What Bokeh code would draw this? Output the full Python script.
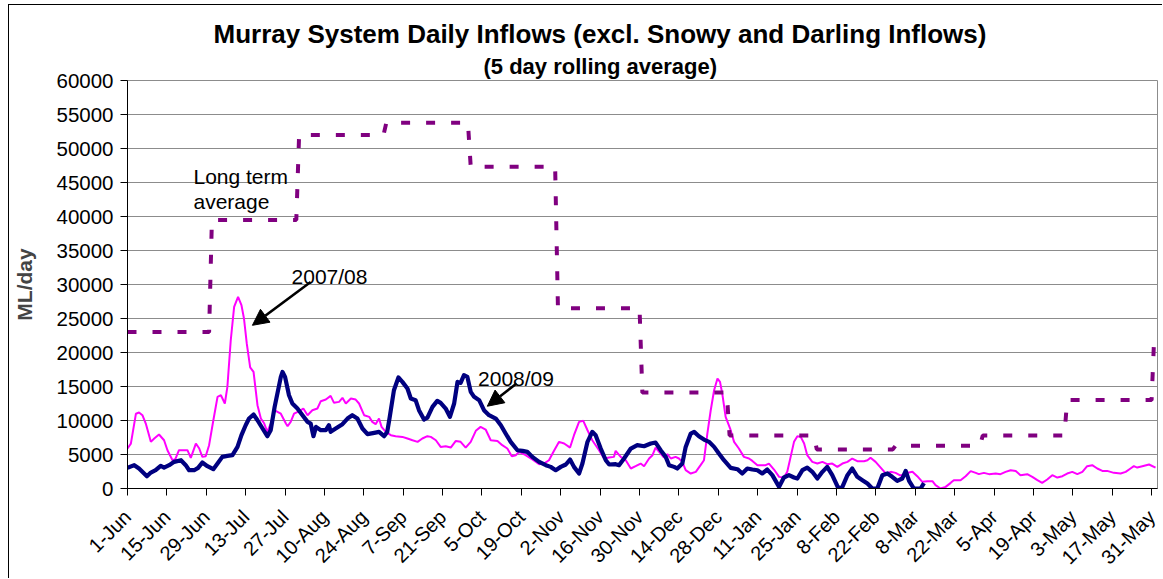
import math
from bokeh.plotting import figure
from bokeh.models import Range1d, FixedTicker, Arrow, NormalHead, Label, Title
from bokeh.embed import file_html
from bokeh.resources import INLINE

# ---------------- data ----------------
tick_days = list(range(0, 365, 14))
tick_labels = ["1-Jun", "15-Jun", "29-Jun", "13-Jul", "27-Jul", "10-Aug", "24-Aug", "7-Sep",
               "21-Sep", "5-Oct", "19-Oct", "2-Nov", "16-Nov", "30-Nov", "14-Dec", "28-Dec",
               "11-Jan", "25-Jan", "8-Feb", "22-Feb", "8-Mar", "22-Mar", "5-Apr", "19-Apr",
               "3-May", "17-May", "31-May"]
y_ticks = list(range(0, 60001, 5000))

# long term average: monthly values (Jun .. May, then next Jun)
lta_month_start = [0, 30, 61, 92, 122, 153, 183, 214, 245, 273, 304, 334, 365]
lta_values = [23000, 39500, 52000, 53800, 47300, 26500, 14100, 7800, 5750, 6300, 7800, 13000, 23000]

# 2007/08 (day of season, ML/day)
d0708 = [0, 1.2, 3, 4.1, 5.3, 6.5, 8.3, 9.5, 11.2, 13, 14.2, 16, 17, 18.3, 21.3, 22.5, 24.3, 25.5,
         26.6, 27.8, 29, 30.5, 32, 33.2, 34.6, 35.5, 36.7, 37.9, 39.3, 40.5, 41.4, 42.4, 43.6, 44.8,
         46.2, 47.4, 48.6, 49.7, 50.9, 52.3, 54.5, 56.3, 56.9, 58, 59.2, 61.6, 62.5, 64, 65.7, 67.5,
         68.7, 70.5, 72.2, 73.4, 75.2, 76.4, 77.6, 79.4, 81.1, 82.3, 84.1, 85.9, 87, 88.2, 89.4, 90.3,
         91.8, 93.6, 95.3, 97.7, 99.5, 101.3, 103.1, 104.8, 106.6, 107.8, 109.6, 111.3, 113.1, 114.9,
         116.7, 118.4, 120.2, 122, 123.8, 125.5, 127.3, 129.1, 131.5, 133.2, 135, 136.6, 138, 139.2,
         141.5, 143.9, 146.3, 148, 149.8, 151.6, 153.4, 155.2, 157.3, 158.7, 160.5, 162, 163.5, 165.2,
         167.6, 169.4, 171.2, 172.9, 173.5, 175.3, 177.1, 178.9, 180.6, 182.4, 183.6, 185.4, 186.6,
         187.7, 189.5, 190.7, 191.9, 193.1, 194.8, 196, 197.2, 198.4, 200.2, 202, 203.7, 204.9, 206.1,
         207.3, 208.5, 209.7, 210.6, 211.4, 212.6, 214.2, 215.6, 217.3, 219.1, 220.9, 222.1, 223.9,
         226.8, 228, 229.8, 231.6, 233.3, 234.5, 235.7, 236.9, 238.1, 239.3, 240.5, 241.6, 243.4,
         245.2, 247, 248.7, 250.5, 252.3, 254.1, 255.9, 257.6, 259.4, 261.8, 263, 264.1, 265.9, 267.7,
         269.5, 271.3, 273, 274.8, 276.6, 279, 280.7, 282.5, 284.3, 286.1, 287.2, 289, 290.8, 292.6,
         293.7, 296.1, 297.9, 299.7, 301.5, 302.6, 304.4, 306.2, 308.6, 310.3, 312.1, 313.9, 315.7,
         317.4, 319.8, 321.6, 323.4, 325.1, 326.9, 328.7, 330.5, 332.3, 334, 335.8, 337.6, 339.4,
         341.1, 342.9, 344.7, 346.5, 348.2, 350.6, 353, 354.8, 356.5, 357.7, 358.9, 360.7, 363.1, 365.4]
v0708 = [5880, 6600, 11000, 11170, 10780, 9550, 6860, 7350, 7940, 7100, 5630, 4160, 4310, 5630, 5630,
         4500, 6610, 5880, 4650, 4750, 6370, 10000, 13480, 13720, 12500, 14950, 21800, 26700, 28180,
         26960, 25000, 21300, 17800, 17150, 12250, 10300, 9550, 8330, 9550, 11500, 11000, 9550, 9160,
         9800, 11000, 11500, 11760, 10780, 11500, 11760, 12840, 13080, 13620, 12600, 12740, 13330,
         12500, 13230, 13080, 12500, 10780, 10540, 9800, 9460, 10300, 9060, 8330, 7840, 7690, 7590,
         7350, 7100, 6860, 7350, 7690, 7590, 7100, 6120, 6220, 6020, 7000, 6860, 6020, 6860, 8480,
         9060, 8670, 7100, 7000, 6370, 5880, 4750, 4900, 5390, 4900, 4260, 3580, 3670, 4160, 5540,
         6860, 6620, 6020, 7840, 9800, 9950, 8570, 7100, 5630, 4410, 4560, 4650, 5540, 4650, 4160,
         2940, 3280, 3670, 3280, 4410, 4900, 6020, 5140, 4550, 5050, 4410, 4650, 4410, 3920, 2690,
         2200, 2450, 3430, 4160, 8080, 11510, 14450, 16170, 15680, 13960, 10530, 8820, 6860, 5880,
         4650, 4410, 4060, 3430, 3430, 3670, 2790, 1710, 1620, 2450, 4650, 6860, 7690, 7590, 6610,
         4900, 3920, 3670, 3920, 3570, 3670, 3180, 3670, 3920, 4410, 4010, 4010, 4160, 4510, 3920,
         3080, 2210, 2450, 2300, 1900, 2250, 2450, 1810, 980, 1070, 1070, 490, 0, 240, 830, 1220,
         1220, 1810, 2550, 2300, 2110, 2300, 2110, 2200, 2110, 2450, 2690, 2590, 1960, 2110, 1710,
         1220, 830, 1320, 1960, 1610, 1810, 2200, 2450, 2110, 2450, 3280, 3430, 2940, 2590, 2590,
         2300, 2200, 2450, 2940, 3280, 3080, 3280, 3530, 3080]

# 2008/09 (day of season, ML/day)
d0809 = [0, 2.4, 4.1, 6.9, 8.3, 10, 11.8, 13, 14.8, 16.6, 19, 20.7, 21.9, 23.7, 25.1, 26.6, 28.4,
         30.5, 32, 33.7, 35.5, 37.3, 39.1, 40.5, 42, 43.2, 44.8, 46.2, 48, 49.7, 50.9, 52.3, 54.5,
         55.1, 56, 57.4, 58.6, 60.4, 62.2, 64, 65.1, 66.1, 67, 68.7, 70.5, 71.6, 72.2, 74, 76.4, 78.2,
         79.9, 81.7, 83.5, 85.3, 87.7, 89.4, 91.2, 92.3, 93.2, 94.7, 96.3, 97.7, 99.5, 100.7, 102.4,
         103.6, 105.4, 106.6, 108.4, 110.1, 111.3, 113.1, 114.6, 116.1, 117.3, 118.4, 119.6, 120.8,
         122, 123.2, 125, 126.7, 128.5, 130.9, 132.7, 134.4, 136.2, 138.6, 140.4, 142.1, 143.9, 146.3,
         148.7, 150.4, 152.2, 154, 155.8, 157.3, 158.7, 160.5, 161.7, 163.5, 165.2, 166.4, 168.2, 170,
         171.2, 173.5, 174.7, 176.5, 178.9, 181.2, 183.6, 186, 187.7, 189.5, 191.3, 192.5, 194.3,
         195.4, 197.2, 198.4, 200.2, 201.4, 203.1, 204.9, 206.7, 208.5, 210.2, 212, 214.4, 216.8,
         218.5, 220.3, 222.1, 223.9, 225.6, 227.4, 229.2, 231.6, 233.3, 235.1, 236.9, 238.1, 239.9,
         241.6, 243.4, 245.2, 247, 248.7, 250.5, 252.7, 254.1, 255.9, 257.6, 259.4, 261.2, 263, 264.7,
         266.5, 268.3, 270.1, 271.8, 273.6, 275.4, 276.6, 277.8, 279.5, 281.9, 283.1]
v0809 = [3030, 3430, 2940, 1810, 2350, 2690, 3330, 3080, 3430, 3920, 4160, 3430, 2690, 2690, 3030,
         3820, 3280, 2840, 3670, 4650, 4800, 4900, 6120, 7840, 9310, 10290, 10880, 10040, 8820, 7690,
         8570, 12000, 16420, 17150, 16420, 13720, 12500, 11760, 10780, 9800, 9550, 7690, 9060, 8570,
         8570, 9310, 8330, 8820, 9460, 10290, 10780, 10290, 8820, 7990, 8180, 8330, 7690, 8300, 10500,
         14450, 16320, 15680, 14700, 13230, 12990, 11520, 10140, 10430, 12000, 12890, 12590, 11760,
         10540, 12500, 15680, 15530, 16660, 16420, 14210, 13480, 12990, 11520, 10780, 10290, 9310,
         8090, 6860, 5630, 5540, 5390, 4650, 3920, 3430, 3180, 2690, 3180, 3530, 4260, 3180, 2210,
         3670, 6860, 8330, 7840, 5880, 4160, 3530, 3580, 3430, 4410, 5880, 6370, 6220, 6620, 6760,
         5630, 4650, 3430, 3180, 2940, 3670, 6120, 8080, 8330, 7690, 7200, 6860, 6120, 5140, 4160,
         3040, 2840, 2210, 2940, 2790, 2690, 2210, 2790, 1960, 240, 1620, 1960, 1620, 1470, 2690,
         3080, 2450, 1470, 2450, 3180, 1960, 0, 240, 1960, 2940, 1720, 1220, 730, 0, 0, 1960, 2210,
         1720, 1130, 1470, 2600, 1130, 0, 0, 800]

# ------------- long-term average as monthly steps -------------
lta_x, lta_y = [], []
for i in range(len(lta_values) - 1):
    lta_x += [lta_month_start[i], lta_month_start[i + 1] - 1]
    lta_y += [lta_values[i], lta_values[i]]
lta_x.append(lta_month_start[-1])
lta_y.append(lta_values[-1])

FONT = "Liberation Sans"

p = figure(width=1154, height=574, x_range=Range1d(0, 366.1), y_range=Range1d(0, 60000),
           output_backend="svg", toolbar_location=None,
           min_border_left=118, min_border_right=6, min_border_top=75, min_border_bottom=91)
p.title.visible = False
p.background_fill_color = "white"
p.border_fill_color = "white"
p.outline_line_color = "#8c8c8c"
p.outline_line_width = 1

p.xgrid.visible = False
p.ygrid.grid_line_color = "#8c8c8c"
p.ygrid.grid_line_width = 1

p.yaxis.ticker = FixedTicker(ticks=y_ticks)
p.yaxis.major_label_overrides = {t: str(t) for t in y_ticks}
p.xaxis.ticker = FixedTicker(ticks=tick_days)
p.xaxis.major_label_overrides = dict(zip(tick_days, tick_labels))
p.xaxis.major_label_orientation = math.pi / 4

for ax in (p.xaxis, p.yaxis):
    ax.axis_line_color = "black"
    ax.axis_line_width = 1
    ax.major_tick_line_color = "black"
    ax.major_tick_in = 0
    ax.major_tick_out = 7
    ax.minor_tick_line_color = None
    ax.major_label_text_font = FONT
    ax.major_label_text_color = "black"
p.yaxis.major_label_text_font_size = "20.5px"
p.xaxis.major_label_text_font_size = "20px"
p.yaxis.major_label_standoff = 7
p.xaxis.major_label_standoff = 18

p.yaxis.axis_label = "ML/day"
p.yaxis.axis_label_text_font = FONT
p.yaxis.axis_label_text_font_style = "bold"
p.yaxis.axis_label_text_font_size = "21px"
p.yaxis.axis_label_standoff = 17

p.line(d0708, v0708, line_color="#FF00FF", line_width=2)
p.line(d0809, v0809, line_color="#000080", line_width=4.2, line_join="round")
p.line(lta_x, lta_y, line_color="#800080", line_width=4, line_dash="9 16")

# arrows
p.add_layout(Arrow(end=NormalHead(size=16, fill_color="black", line_color="black"),
                   x_start=65.1, y_start=30380, x_end=44.4, y_end=24000,
                   line_color="black", line_width=2.5))
p.add_layout(Arrow(end=NormalHead(size=16, fill_color="black", line_color="black"),
                   x_start=138.3, y_start=15440, x_end=127.9, y_end=12100,
                   line_color="black", line_width=2.5))

def lab(x, y, text):
    p.add_layout(Label(x=x, y=y, text=text, text_font=FONT, text_font_size="21px",
                       text_align="left", text_baseline="alphabetic", text_color="black"))

lab(58.3, 31120, "2007/08")
lab(124.6, 16180, "2008/09")
lab(23.45, 45820, "Long term")
lab(23.45, 42150, "average")

# titles: first added sits nearest the frame
p.add_layout(Title(text="(5 day rolling average)", align="left", offset=356,
                   text_font=FONT, text_font_size="22px", text_font_style="bold",
                   text_color="black", standoff=4), "above")
p.add_layout(Title(text="Murray System Daily Inflows (excl. Snowy and Darling Inflows)",
                   align="left", offset=86, text_font=FONT, text_font_size="26px",
                   text_font_style="bold", text_color="black", standoff=2), "above")

p.styles = {"border-left": "1px solid black", "border-top": "1px solid black",
            "margin-left": "8px", "margin-top": "4px"}

open("out.html", "w").write(file_html(p, INLINE))
